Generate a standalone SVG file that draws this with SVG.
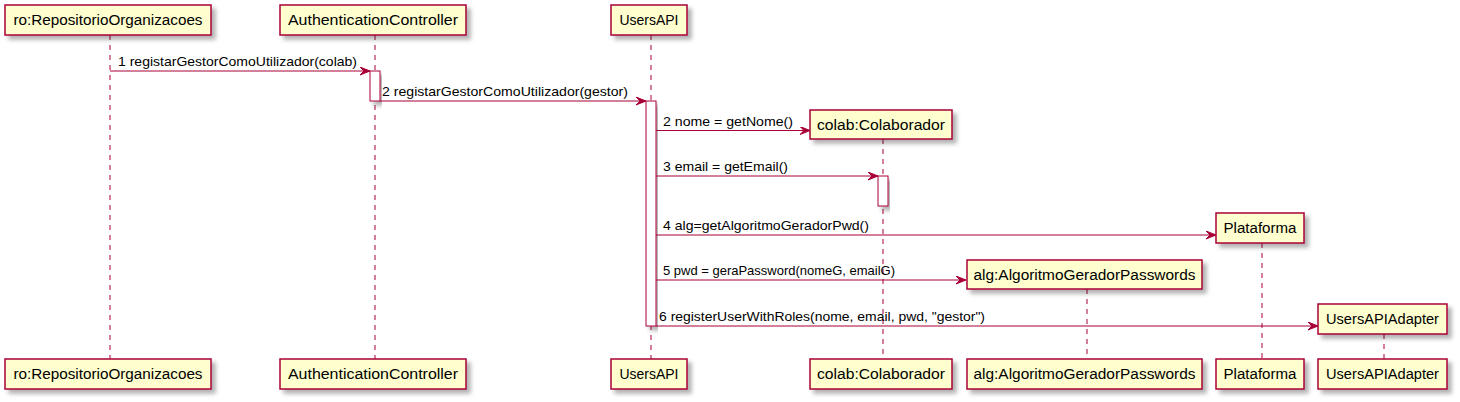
<svg xmlns="http://www.w3.org/2000/svg" width="1460" height="402" viewBox="0 0 1460 402">
<defs>
<filter id="sh" x="-10%" y="-20%" width="130%" height="160%">
<feDropShadow dx="4" dy="4" stdDeviation="2" flood-color="#000" flood-opacity="0.3"/>
</filter>
<marker id="ah" markerWidth="12" markerHeight="10" refX="10" refY="4" orient="auto" markerUnits="userSpaceOnUse">
<polygon points="0,0 10,4 0,8 4,4" fill="#A80036" stroke="#A80036" stroke-width="1"/>
</marker>
</defs>
<style>
.box{fill:#FEFECE;stroke:#A80036;stroke-width:1.5;filter:url(#sh)}
.act{fill:#FFFFFF;stroke:#A80036;stroke-width:1;filter:url(#sh)}
.life{stroke:#A80036;stroke-width:1;stroke-dasharray:5,5;fill:none}
.msg{stroke:#A80036;stroke-width:1;fill:none;marker-end:url(#ah)}
.pt{font-family:"Liberation Sans",Arial,sans-serif;font-size:14px;fill:#000;text-anchor:middle}
.mt{font-family:"Liberation Sans",Arial,sans-serif;font-size:13px;fill:#000}
</style>

<g id="lifelines">
<line class="life" x1="110" y1="35" x2="110" y2="359"/>
<line class="life" x1="375" y1="35" x2="375" y2="359"/>
<line class="life" x1="651" y1="35" x2="651" y2="359"/>
<line class="life" x1="883" y1="139" x2="883" y2="359"/>
<line class="life" x1="1087" y1="289" x2="1087" y2="359"/>
<line class="life" x1="1262" y1="243" x2="1262" y2="359"/>
<line class="life" x1="1384" y1="334" x2="1384" y2="359"/>
</g>

<g id="activations">
<rect class="act" x="370" y="71" width="10" height="30"/>
<rect class="act" x="646" y="101" width="10" height="225"/>
<rect class="act" x="878" y="176" width="10" height="30"/>
</g>

<g id="ro">
<rect class="box" x="5" y="5" width="206" height="30"/>
<text class="pt" x="108" y="25" textLength="189" lengthAdjust="spacingAndGlyphs">ro:RepositorioOrganizacoes</text>
<rect class="box" x="5" y="359" width="206" height="30"/>
<text class="pt" x="108" y="379" textLength="189" lengthAdjust="spacingAndGlyphs">ro:RepositorioOrganizacoes</text>
</g>

<g id="authController">
<rect class="box" x="280" y="5" width="186" height="30"/>
<text class="pt" x="373" y="25" textLength="170" lengthAdjust="spacingAndGlyphs">AuthenticationController</text>
<rect class="box" x="280" y="359" width="186" height="30"/>
<text class="pt" x="373" y="379" textLength="170" lengthAdjust="spacingAndGlyphs">AuthenticationController</text>
</g>

<g id="usersAPI">
<rect class="box" x="611" y="5" width="76" height="30"/>
<text class="pt" x="649" y="25" textLength="59" lengthAdjust="spacingAndGlyphs">UsersAPI</text>
<rect class="box" x="611" y="359" width="76" height="30"/>
<text class="pt" x="649" y="379" textLength="59" lengthAdjust="spacingAndGlyphs">UsersAPI</text>
</g>

<g id="colab">
<rect class="box" x="810" y="110" width="142" height="29"/>
<text class="pt" x="881" y="130" textLength="128" lengthAdjust="spacingAndGlyphs">colab:Colaborador</text>
<rect class="box" x="810" y="359" width="142" height="30"/>
<text class="pt" x="881" y="379" textLength="128" lengthAdjust="spacingAndGlyphs">colab:Colaborador</text>
</g>

<g id="alg">
<rect class="box" x="967" y="260" width="235" height="29"/>
<text class="pt" x="1084.5" y="280" textLength="222" lengthAdjust="spacingAndGlyphs">alg:AlgoritmoGeradorPasswords</text>
<rect class="box" x="967" y="359" width="235" height="30"/>
<text class="pt" x="1084.5" y="379" textLength="222" lengthAdjust="spacingAndGlyphs">alg:AlgoritmoGeradorPasswords</text>
</g>

<g id="plataforma">
<rect class="box" x="1216" y="213" width="88" height="30"/>
<text class="pt" x="1260" y="233" textLength="73" lengthAdjust="spacingAndGlyphs">Plataforma</text>
<rect class="box" x="1216" y="359" width="88" height="30"/>
<text class="pt" x="1260" y="379" textLength="73" lengthAdjust="spacingAndGlyphs">Plataforma</text>
</g>

<g id="usersAPIAdapter">
<rect class="box" x="1318" y="304" width="129" height="30"/>
<text class="pt" x="1382.5" y="324" textLength="113" lengthAdjust="spacingAndGlyphs">UsersAPIAdapter</text>
<rect class="box" x="1318" y="359" width="129" height="30"/>
<text class="pt" x="1382.5" y="379" textLength="113" lengthAdjust="spacingAndGlyphs">UsersAPIAdapter</text>
</g>

<g id="connectors">
<line class="msg" x1="110" y1="71" x2="370" y2="71"/>
<text class="mt" x="118" y="66" textLength="239" lengthAdjust="spacingAndGlyphs">1 registarGestorComoUtilizador(colab)</text>
<line class="msg" x1="380" y1="101" x2="646" y2="101"/>
<text class="mt" x="382" y="96" textLength="246" lengthAdjust="spacingAndGlyphs">2 registarGestorComoUtilizador(gestor)</text>
<line class="msg" x1="656" y1="130.5" x2="810" y2="130.5"/>
<text class="mt" x="663" y="125.5" textLength="130" lengthAdjust="spacingAndGlyphs">2 nome = getNome()</text>
<line class="msg" x1="656" y1="176" x2="878" y2="176"/>
<text class="mt" x="663" y="171" textLength="125" lengthAdjust="spacingAndGlyphs">3 email = getEmail()</text>
<line class="msg" x1="656" y1="235" x2="1216" y2="235"/>
<text class="mt" x="663" y="230" textLength="206" lengthAdjust="spacingAndGlyphs">4 alg=getAlgoritmoGeradorPwd()</text>
<line class="msg" x1="656" y1="280" x2="966" y2="280"/>
<text class="mt" x="663" y="275" textLength="232" lengthAdjust="spacingAndGlyphs">5 pwd = geraPassword(nomeG, emailG)</text>
<line class="msg" x1="656" y1="326" x2="1318" y2="326"/>
<text class="mt" x="659" y="321" textLength="326" lengthAdjust="spacingAndGlyphs">6 registerUserWithRoles(nome, email, pwd, "gestor")</text>
</g>
</svg>
